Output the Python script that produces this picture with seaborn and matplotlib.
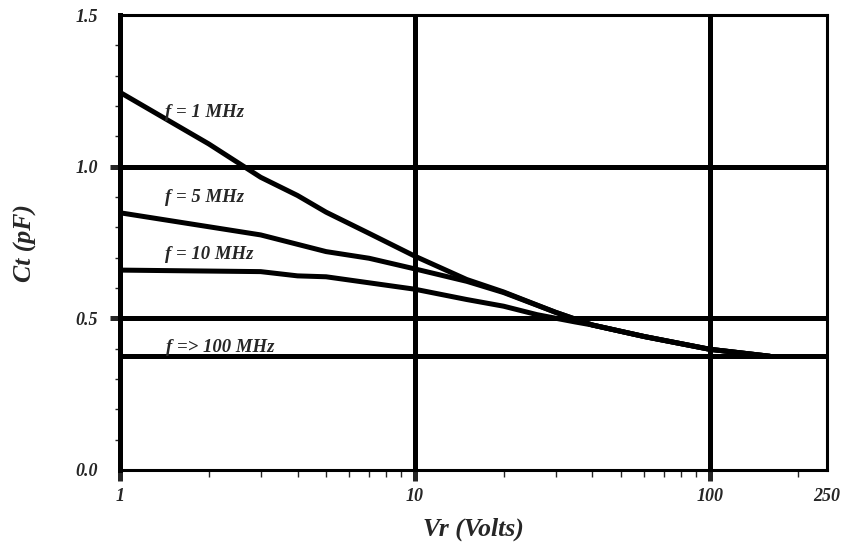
import matplotlib
matplotlib.use("Agg")
import matplotlib.pyplot as plt
import matplotlib.ticker as mticker
import numpy as np
import pandas as pd
import seaborn as sns

# Junction capacitance vs reverse voltage, one curve per test frequency
vr_1mhz = [1, 2, 3, 4, 5, 7, 10, 15, 20, 30, 40, 60, 100, 160]
ct_1mhz = [1.245, 1.075, 0.965, 0.905, 0.85, 0.78, 0.705, 0.628, 0.587, 0.52, 0.478, 0.44, 0.398, 0.375]

vr_5mhz = [1, 3, 5, 7, 10, 15, 20, 30, 40, 60, 100, 160]
ct_5mhz = [0.848, 0.775, 0.72, 0.698, 0.663, 0.622, 0.585, 0.52, 0.478, 0.44, 0.398, 0.375]

vr_10mhz = [1, 3, 4, 5, 10, 15, 20, 26, 35, 40, 60, 100, 160]
ct_10mhz = [0.659, 0.654, 0.64, 0.637, 0.596, 0.562, 0.54, 0.512, 0.488, 0.478, 0.44, 0.398, 0.375]

vr_100mhz = [1, 250]
ct_100mhz = [0.375, 0.375]

series_names = ["f = 1 MHz", "f = 5 MHz", "f = 10 MHz", "f => 100 MHz"]
label_pos = [(1.42, 1.18), (1.42, 0.90), (1.42, 0.71), (1.43, 0.405)]

x_ticks = [1, 10, 100, 250]
x_tick_labels = ["1", "10", "100", "250"]
y_ticks = [0.0, 0.5, 1.0, 1.5]
y_tick_labels = ["0.0", "0.5", "1.0", "1.5"]
x_grid = [10, 100]
y_grid = [0.5, 1.0]

frames = []
for name, xs, ys in zip(series_names,
                        [vr_1mhz, vr_5mhz, vr_10mhz, vr_100mhz],
                        [ct_1mhz, ct_5mhz, ct_10mhz, ct_100mhz]):
    frames.append(pd.DataFrame({"Vr": xs, "Ct": ys, "series": name}))
df = pd.concat(frames, ignore_index=True)

sns.set_style("white")
plt.rcParams["font.family"] = ["Liberation Serif", "DejaVu Serif"]
plt.rcParams["font.weight"] = "bold"
plt.rcParams["font.style"] = "italic"

fig = plt.figure(figsize=(8.43, 5.42), dpi=100)
ax = fig.add_axes([120 / 843, 1 - 470 / 542, 707 / 843, 455 / 542])

for xv in x_grid:
    ax.axvline(xv, color="black", lw=3.6, zorder=1)
for yv in y_grid:
    ax.axhline(yv, color="black", lw=3.6, zorder=1)

sns.lineplot(data=df, x="Vr", y="Ct", hue="series", units="series", estimator=None,
             palette=["black"] * 4, linewidth=3.6, legend=False, sort=False, ax=ax,
             zorder=2)

ax.set_xscale("log")
ax.set_xlim(1, 250)
ax.set_ylim(0, 1.5)

ax.set_xticks(x_ticks)
ax.set_xticklabels(x_tick_labels)
ax.xaxis.set_minor_locator(mticker.LogLocator(base=10, subs=np.arange(2, 10)))
ax.xaxis.set_minor_formatter(mticker.NullFormatter())
ax.set_yticks(y_ticks)
ax.set_yticklabels(y_tick_labels)
ax.yaxis.set_minor_locator(mticker.MultipleLocator(0.1))

ax.tick_params(axis="x", which="major", direction="out", length=8, width=3.6,
               pad=5, labelsize=13, bottom=True)
ax.tick_params(axis="x", which="minor", direction="out", length=5, width=1.0, bottom=True)
ax.tick_params(axis="y", which="major", direction="out", length=7, width=3.6,
               pad=9, labelsize=13, left=True)
ax.tick_params(axis="y", which="minor", direction="out", length=3.6, width=1.0, left=True)

# no tick marks at the 250 edge or at the 0.0 / 1.5 ends
ax.xaxis.get_major_ticks()[3].tick1line.set_visible(False)
ax.yaxis.get_major_ticks()[0].tick1line.set_visible(False)
ax.yaxis.get_major_ticks()[3].tick1line.set_visible(False)

for lbl in ax.get_xticklabels() + ax.get_yticklabels():
    lbl.set_fontweight("bold")
    lbl.set_fontstyle("italic")

for side in ["top", "right", "bottom"]:
    ax.spines[side].set_linewidth(2.2)
    ax.spines[side].set_color("black")
ax.spines["left"].set_linewidth(3.6)
ax.spines["left"].set_color("black")

for name, (tx, ty) in zip(series_names, label_pos):
    ax.text(tx, ty, name, fontsize=13.5, fontweight="bold", fontstyle="italic",
            ha="left", va="center", zorder=3)

ax.set_xlabel("Vr (Volts)", fontsize=18.5, fontweight="bold", fontstyle="italic", va="center")
ax.xaxis.set_label_coords(0.5, -0.13)
ax.set_ylabel("Ct (pF)", fontsize=18.5, fontweight="bold", fontstyle="italic", va="center")
ax.yaxis.set_label_coords(-0.134, 0.5)

fig.savefig("out.png", dpi=100)
